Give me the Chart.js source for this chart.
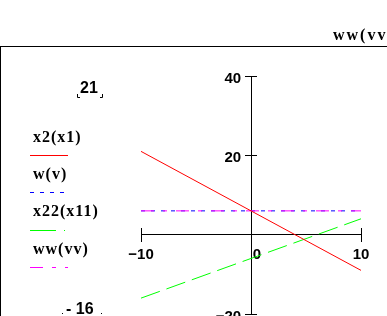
<!DOCTYPE html>
<html>
<head>
<meta charset="utf-8">
<script src="https://cdn.jsdelivr.net/npm/chart.js@4.4.1/dist/chart.umd.min.js"></script>
<style>
  html, body { margin: 0; padding: 0; background: #fff; overflow: hidden; }
  #wrap { position: absolute; left: 0; top: 0; width: 387px; height: 360px; }
</style>
</head>
<body>
<div id="wrap"><canvas id="plot" width="387" height="360"></canvas></div>
<script>
/* traces */
const x1 = [-10, 0, 10];
const x2 = [21, 6, -9];
const v = [-10, 10];
const w = [6, 6];
const x11 = [-10, 0, 10];
const x22 = [-16, -6, 4];
const vv = [-10, 10];
const ww = [6, 6];

const traceNames = ['x2(x1)', 'w(v)', 'x22(x11)', 'ww(vv)'];
const xTicks = [-10, 0, 10];
const yTicks = [-20, 0, 20, 40];
const topLimit = '21';
const bottomLimit = '- 16';
const cutTitle = 'ww(vv';

function pts(xs, ys) { return xs.map((x, i) => ({ x: x, y: ys[i] })); }
function minus(val) { return val < 0 ? '\u2212' + Math.abs(val) : String(val); }
function setTicks(list) { return s => { s.ticks = list.map(value => ({ value })); }; }

const tickFont = { family: 'Liberation Sans', size: 15, weight: 'bold' };

/* legend, range labels and the frame, drawn the mathcad way */
const mathcadBits = {
  id: 'mathcadBits',
  beforeDraw(chart) {
    const ctx = chart.ctx;
    ctx.save();
    ctx.strokeStyle = '#000';
    ctx.lineWidth = 1;
    ctx.beginPath();
    ctx.moveTo(0, 46.5); ctx.lineTo(387, 46.5);
    ctx.moveTo(0.5, 46); ctx.lineTo(0.5, 360);
    ctx.stroke();

    ctx.fillStyle = '#000';
    ctx.font = 'bold 16px "Liberation Serif"';
    ctx.letterSpacing = '2px';
    ctx.textBaseline = 'alphabetic';
    ctx.fillText(cutTitle, 333, 40);
    ctx.letterSpacing = '0px';

    ctx.font = 'bold 16px "Liberation Sans"';
    ctx.textBaseline = 'middle';
    ctx.fillText(topLimit, 80, 89);
    ctx.fillText(bottomLimit, 66, 310);
    // little placeholder corners
    ctx.beginPath();
    ctx.moveTo(77.5, 94); ctx.lineTo(77.5, 97.5); ctx.lineTo(80, 97.5);
    ctx.moveTo(102.5, 94); ctx.lineTo(102.5, 97.5); ctx.lineTo(100, 97.5);
    ctx.stroke();
    ctx.fillRect(62, 313, 1, 1);
    ctx.fillRect(101, 313, 1, 1);
    ctx.restore();
  },
  afterDraw(chart) {
    const ctx = chart.ctx;
    ctx.save();
    chart.data.datasets.forEach((ds, i) => {
      const ty = 137.5 + i * 37.3;
      ctx.fillStyle = '#000';
      ctx.font = 'bold 16px "Liberation Serif"';
      ctx.letterSpacing = '1px';
      ctx.textBaseline = 'middle';
      ctx.fillText(ds.label, 33, ty);
      ctx.strokeStyle = ds.borderColor;
      ctx.lineWidth = 1;
      ctx.setLineDash(ds.legendDash || ds.borderDash || []);
      ctx.beginPath();
      ctx.moveTo(30, Math.round(ty + 17.5) + 0.5);
      ctx.lineTo(68, Math.round(ty + 17.5) + 0.5);
      ctx.stroke();
    });
    ctx.restore();
  }
};

const flat = { afterFit: s => { s.height = 0; } };
const thin = { afterFit: s => { s.width = 0; } };
const noGrid = { display: false, drawOnChartArea: false, drawTicks: false };

new Chart(document.getElementById('plot'), {
  type: 'scatter',
  data: {
    datasets: [
      { label: traceNames[0], data: pts(x1, x2), borderColor: '#ff0000', borderWidth: 1, order: 0 },
      { label: traceNames[1], data: pts(v, w), borderColor: '#0000ff', borderWidth: 1, borderDash: [4, 6], order: 2 },
      { label: traceNames[2], data: pts(x11, x22), borderColor: '#00ff00', borderWidth: 1, borderDash: [20, 7], legendDash: [26, 8, 1, 8], order: 3 },
      { label: traceNames[3], data: pts(vv, ww), borderColor: '#ff00ff', borderWidth: 1, borderDash: [13, 9, 4, 9], order: 1 }
    ]
  },
  options: {
    responsive: false,
    animation: false,
    showLine: true,
    elements: { point: { radius: 0, hoverRadius: 0 }, line: { tension: 0 } },
    layout: { padding: { left: 141, right: 26, top: 76, bottom: 46 } },
    plugins: { legend: { display: false }, tooltip: { enabled: false } },
    scales: {
      // x axis line, ticks below, labels for the ends
      x: {
        type: 'linear', min: -10, max: 10, position: { y: 0 },
        afterBuildTicks: setTicks(xTicks), ...flat,
        border: { color: '#000', width: 1 },
        grid: { drawOnChartArea: false, tickLength: 7, color: '#000', tickColor: '#000' },
        ticks: { font: tickFont, color: '#000', padding: 4, maxRotation: 0,
                 callback: val => (val === 0 ? '' : minus(val)) }
      },
      // the 0 label sits a little right of the y axis
      xZero: {
        type: 'linear', axis: 'x', min: -10, max: 10, position: { y: 0 },
        afterBuildTicks: setTicks([0]), ...flat,
        border: { display: false },
        grid: noGrid,
        ticks: { font: tickFont, color: '#000', padding: 11, labelOffset: 6, maxRotation: 0 }
      },
      xUp: {
        type: 'linear', axis: 'x', min: -10, max: 10, position: { y: 0 },
        afterBuildTicks: setTicks(xTicks), ...flat,
        border: { display: false },
        grid: { drawOnChartArea: false, tickLength: -7, color: '#000', tickColor: '#000' },
        ticks: { display: false }
      },
      // y labels, set off to the left of the axis
      y: {
        type: 'linear', min: -20, max: 40, position: { x: -0.9 },
        afterBuildTicks: setTicks(yTicks), ...thin,
        border: { display: false },
        grid: noGrid,
        ticks: { font: tickFont, color: '#000', labelOffset: 3,
                 callback: val => (val === 0 ? '' : minus(val)) }
      },
      yAxis: {
        type: 'linear', axis: 'y', min: -20, max: 40, position: { x: 0 },
        afterBuildTicks: setTicks(yTicks), ...thin,
        border: { color: '#000', width: 1 },
        grid: { drawOnChartArea: false, tickLength: 6, color: '#000', tickColor: '#000' },
        ticks: { display: false }
      },
      yRight: {
        type: 'linear', axis: 'y', min: -20, max: 40, position: { x: 0 },
        afterBuildTicks: setTicks(yTicks), ...thin,
        border: { display: false },
        grid: { drawOnChartArea: false, tickLength: -6, color: '#000', tickColor: '#000' },
        ticks: { display: false }
      }
    }
  },
  plugins: [mathcadBits]
});
</script>
</body>
</html>
